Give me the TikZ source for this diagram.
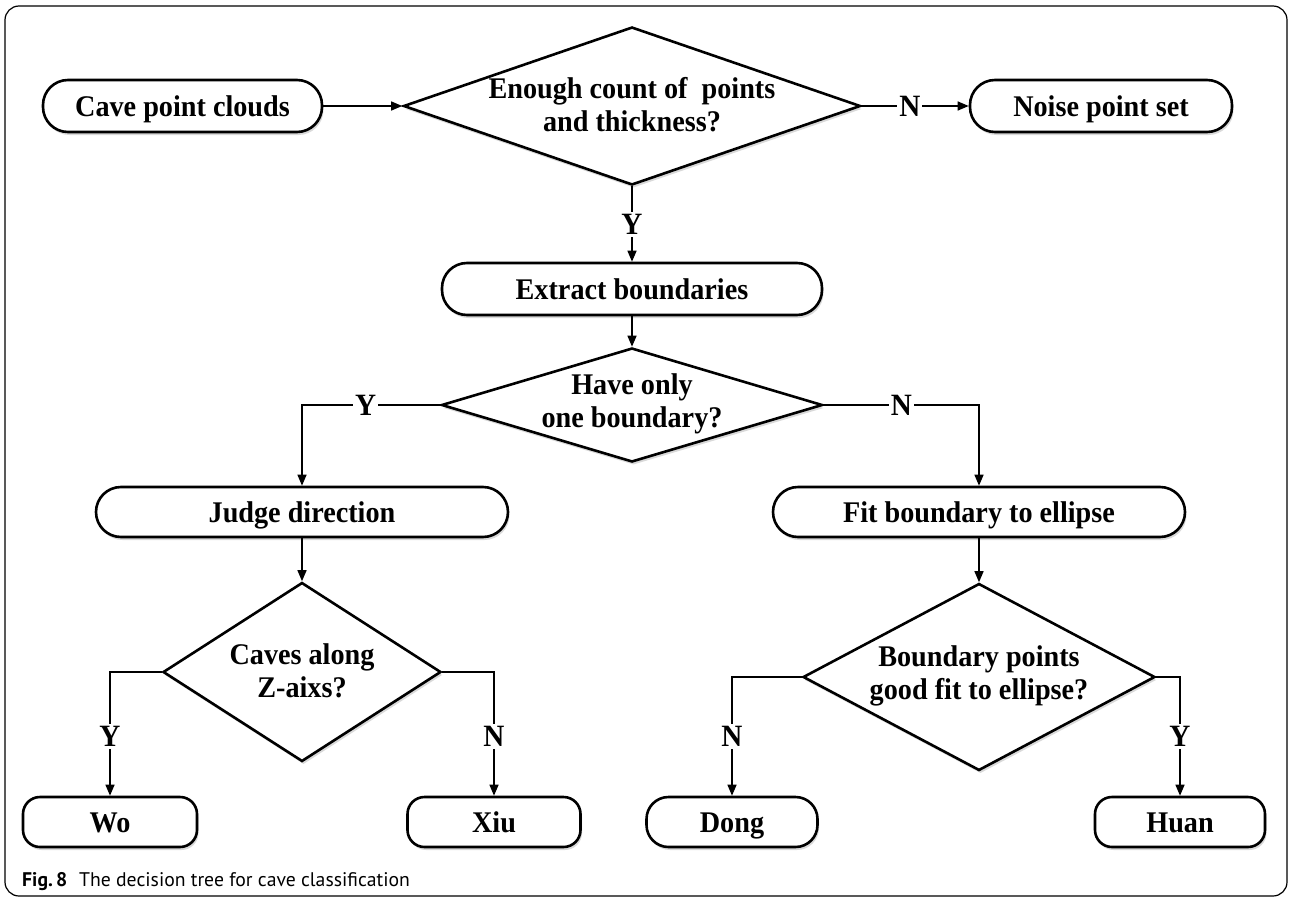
\documentclass[tikz,border=0pt]{standalone}
\usepackage{fontspec}
\setmainfont[FakeStretch=0.94]{Liberation Serif}
\newfontfamily\capfont{PT Sans}
\usetikzlibrary{arrows.meta,shapes.geometric,shadows}
\begin{document}
\begin{tikzpicture}[x=1pt,y=-1pt,
  shadowed/.style={drop shadow={shadow xshift=1.5pt,shadow yshift=-3pt,opacity=0.15,fill=black}},
  txt/.style={font=\bfseries\fontsize{30}{33}\selectfont,text=black},
  one/.style={text height=26pt,text depth=6pt},
  term/.style={draw,line width=2.6pt,rounded corners=25pt,minimum height=52pt,inner sep=0pt,fill=white,txt,one,shadowed},
  leaf/.style={draw,line width=2.6pt,rounded corners=17pt,minimum height=50pt,inner sep=0pt,fill=white,txt,one,shadowed},
  dec/.style={draw,diamond,line width=2.6pt,inner sep=0pt,fill=white,shadowed},
  conn/.style={line width=1.4pt,-{Triangle[length=11pt,width=9pt]}},
  yn/.style={font=\bfseries\fontsize{31}{31}\selectfont,fill=white,inner sep=2pt,text height=21pt,text depth=0pt},
  capstyle/.style={anchor=base west,inner sep=0pt,font=\capfont\fontsize{19.7}{20}\selectfont}]
\useasboundingbox (0,0) rectangle (1290,899);
\draw[line width=1.2pt,rounded corners=14pt] (5,6) rectangle (1287,896);

% terminals
\node[term,minimum width=279pt] (cave) at (182.5,106) {Cave point clouds};
\node[term,minimum width=262pt] (noise) at (1101,106) {Noise point set};
\node[term,minimum width=380pt] (extract) at (632,289) {Extract boundaries};
\node[term,minimum width=412pt,minimum height=50pt] (judge) at (302,512) {Judge direction};
\node[term,minimum width=412pt,minimum height=50pt] (fit) at (979,512) {Fit boundary to ellipse};
\node[leaf,minimum width=174pt] (wo) at (110,822) {Wo};
\node[leaf,minimum width=173pt] (xiu) at (494,822) {Xiu};
\node[leaf,minimum width=171pt,rounded corners=22pt] (dong) at (732,822) {Dong};
\node[leaf,minimum width=170pt] (huan) at (1180,822) {Huan};

% decisions
\node[dec,minimum width=457pt,minimum height=158pt] (d1) at (632,106) {};
\node[txt,align=center] (d1t) at (632,105) {Enough count of\ \ points\\and thickness?};
\node[dec,minimum width=381pt,minimum height=114pt] (d2) at (632,405) {};
\node[txt,align=center] (d2t) at (632,404) {Have only\\one boundary?};
\node[dec,minimum width=278pt,minimum height=179pt] (d3) at (302,672) {};
\node[txt,align=center] (d3t) at (302,671) {Caves along\\Z-aixs?};
\node[dec,minimum width=352pt,minimum height=187pt] (d4) at (979,677) {};
\node[txt,align=center] (d4t) at (979,676) {Boundary points\\good fit to ellipse?};

% connectors
\draw[conn] (cave.east) -- (d1.west);
\draw[conn] (d1.east) -- node[yn,pos=0.45]{N} (noise.west);
\draw[conn] (d1.south) -- node[yn]{Y} (extract.north);
\draw[conn] (extract.south) -- (d2.north);
\draw[conn] (d2.west) -| node[yn,pos=0.27]{Y} (judge.north);
\draw[conn] (d2.east) -| node[yn,pos=0.25]{N} (fit.north);
\draw[conn] (judge.south) -- (d3.north);
\draw[conn] (fit.south) -- (d4.north);
\draw[conn] (d3.west) -| node[yn,pos=0.76]{Y} (wo.north);
\draw[conn] (d3.east) -| node[yn,pos=0.76]{N} (xiu.north);
\draw[conn] (d4.west) -| node[yn,pos=0.75]{N} (dong.north);
\draw[conn] (d4.east) -| node[yn,pos=0.75]{Y} (huan.north);

% caption
\node[capstyle] (cap) at (22,886) {\textbf{Fig.\,8}\hspace{0.6em}The decision tree for cave classification};
\end{tikzpicture}
\end{document}
